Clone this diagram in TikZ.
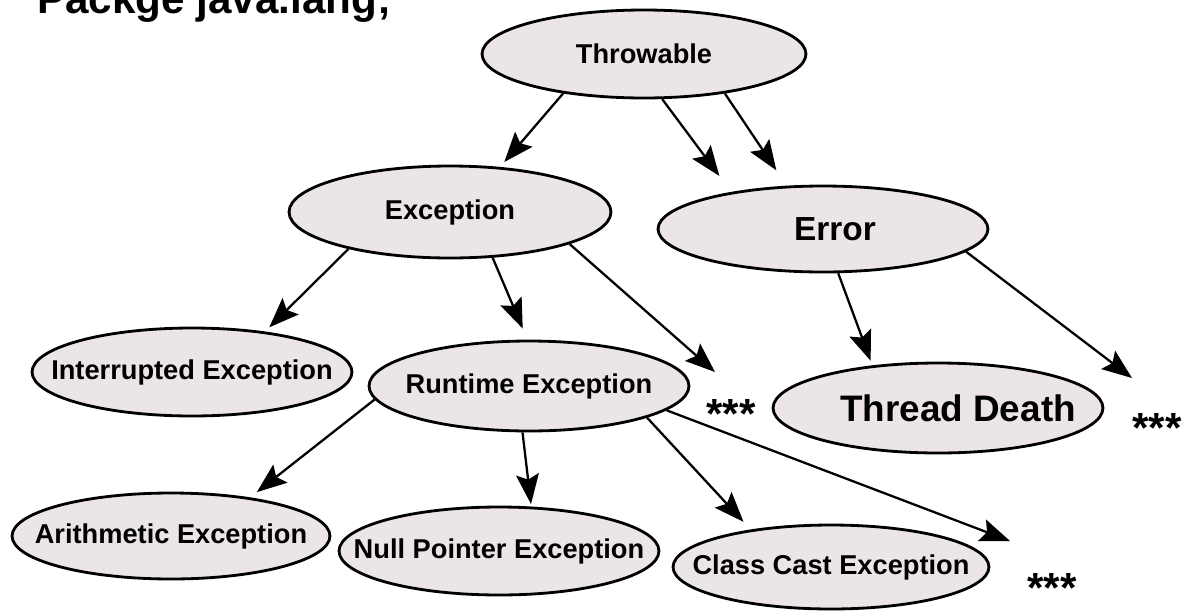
\documentclass[tikz,border=0pt]{standalone}
\usepackage{fontspec}
\setmainfont{Liberation Sans}
\usetikzlibrary{shapes.geometric,arrows.meta}
\definecolor{shell}{RGB}{235,229,231}

\begin{document}
\begin{tikzpicture}[x=0.02cm,y=-0.02cm,
	cell/.style={ellipse,draw,line width=1.6pt,fill=shell,inner xsep=-3cm,inner ysep=0pt,font=\bfseries\fontsize{15.5}{18}\selectfont},
	arr/.style={-{Stealth[length=17pt,width=13pt,inset=3pt]},line width=1.3pt},
	more/.style={inner sep=0pt,anchor=base,font=\bfseries\fontsize{24}{24}\selectfont}]
	\fill[white] (0,0) rectangle (1198,613); %Hintergrund
	\useasboundingbox (0,0) rectangle (1198,613);
	\node[anchor=base west,inner sep=0pt,font=\bfseries\fontsize{24}{24}\selectfont] (pkg) at (37,13) {Packge java.lang;}; %oben abgeschnitten
	\node[cell,minimum width=6.48cm,minimum height=1.76cm] (thr) at (644,54) {Throwable};
	\node[cell,minimum width=6.44cm,minimum height=1.84cm] (exc) at (450,212) {Exception};
	\node[cell,minimum width=6.6cm,minimum height=1.72cm,font=\bfseries\fontsize{19}{22}\selectfont] (err) at (823,229) {\hspace*{0.48cm}Error};
	\node[cell,minimum width=6.4cm,minimum height=1.76cm] (intr) at (192,372) {Interrupted Exception};
	\node[cell,minimum width=6.4cm,minimum height=1.8cm] (run) at (529,386) {Runtime Exception};
	\node[cell,minimum width=6.6cm,minimum height=1.8cm,font=\bfseries\fontsize{21}{24}\selectfont] (td) at (938,408) {\hspace*{0.8cm}Thread Death};
	\node[cell,minimum width=6.36cm,minimum height=1.72cm] (ari) at (171,536) {Arithmetic Exception};
	\node[cell,minimum width=6.4cm,minimum height=1.76cm] (nul) at (499,551) {Null Pointer Exception};
	\node[cell,minimum width=6.32cm,minimum height=1.68cm] (ccast) at (831,567) {Class Cast Exception};
	\foreach \nm/\x/\y in {s1/731/428,s2/1157/442,s3/1052/602} %weitere Klassen
		\node[more] (\nm) at (\x,\y) {***};
	\coordinate (m1) at (715,372);
	\coordinate (m2) at (1132,378);
	\coordinate (m3) at (1010,541);
	\foreach \a/\b/\s in {thr.206/exc.42/0.13,thr.292/err.158/0.40,thr.334/err.130/0.37,
		exc.200/intr.29/0.12,exc.313/run.92/0.24,err.289/td.147/0.10,
		run.185/ari.26/0.17,run.262/nul.54/0.05,run.345/ccast.155/0.21}
		\draw[arr,shorten >=\s cm] (\a) -- (\b);
	\draw[arr] (exc.345) -- (m1);
	\draw[arr] (err.351) -- (m2);
	\draw[arr] (run.350) -- (m3);
\end{tikzpicture}
\end{document}
